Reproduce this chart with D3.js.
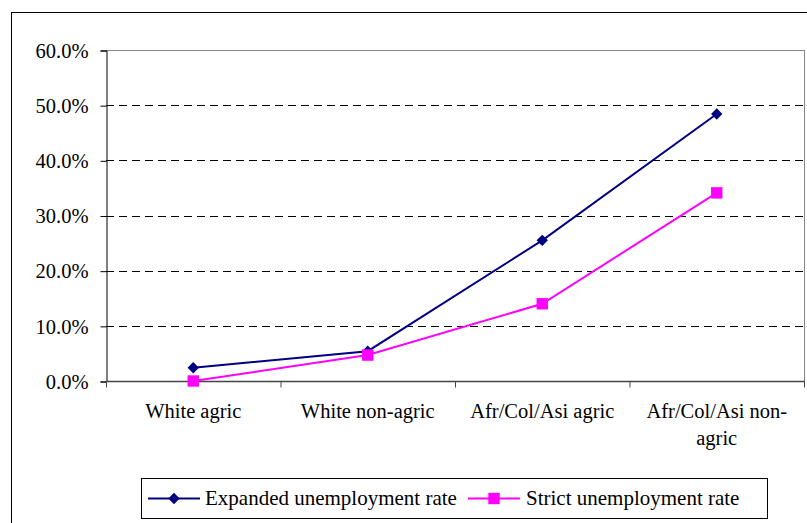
<!DOCTYPE html>
<html><head><meta charset="utf-8">
<script src="https://cdn.jsdelivr.net/npm/d3@7"></script>
<style>body{margin:0;background:#fff}svg{display:block}</style>
</head><body>
<svg id="c" width="807" height="523"></svg>
<script>
const categories = [["White agric"],["White non-agric"],["Afr/Col/Asi agric"],["Afr/Col/Asi non-","agric"]];
const expanded = [0.024, 0.054, 0.255, 0.484];
const strict = [0.000, 0.047, 0.140, 0.341];
const yTicks = [0, 0.1, 0.2, 0.3, 0.4, 0.5, 0.6];
const seriesNames = ["Expanded unemployment rate", "Strict unemployment rate"];

const FONT = "'Liberation Serif','Times New Roman',serif";
const svg = d3.select("#c");
const L = 106, R = 804, T = 50, B = 381;
svg.append("rect").attr("x",11.5).attr("y",12.5).attr("width",830).attr("height",530).attr("fill","none").attr("stroke","#000").attr("stroke-width",1);

const x = d3.scaleBand().domain(d3.range(categories.length)).range([L, R]).padding(0);
const y = d3.scaleLinear().domain([0, 0.6]).range([B, T]);

svg.append("g").selectAll("line").data(yTicks.filter(d=>d>0 && d<0.6)).join("line")
  .attr("x1",L).attr("x2",R).attr("y1",d=>Math.round(y(d))+0.5).attr("y2",d=>Math.round(y(d))+0.5)
  .attr("stroke","#000").attr("stroke-dasharray","8,5").attr("stroke-width",1);
svg.append("line").attr("x1",L).attr("x2",R).attr("y1",T+0.5).attr("y2",T+0.5).attr("stroke","#888");
svg.append("line").attr("x1",R+0.5).attr("x2",R+0.5).attr("y1",T).attr("y2",B).attr("stroke","#888");

const yAxis = d3.axisLeft(y).tickValues(yTicks).tickFormat(d3.format(".1%")).tickSize(6).tickPadding(12);
const gy = svg.append("g").attr("transform",`translate(${L+0.5},0.5)`).call(yAxis);
gy.select(".domain").attr("stroke","#000");
gy.selectAll("text").style("font-family",FONT).style("font-size","20.5px").attr("dy","0.33em");

const gx = svg.append("g").attr("transform",`translate(0,${B+0.5})`);
gx.append("line").attr("x1",L).attr("x2",R+1).attr("stroke","#444").attr("stroke-width",1.5);
const bounds = d3.range(categories.length+1).map(i => i<categories.length ? x(i) : R);
gx.selectAll("line.tk").data(bounds).join("line").attr("class","tk")
  .attr("x1",d=>d+0.5).attr("x2",d=>d+0.5).attr("y1",0).attr("y2",6).attr("stroke","#444");
gx.selectAll("text").data(categories).join("text")
  .attr("text-anchor","middle").style("font-family",FONT).style("font-size","20.5px")
  .attr("x",(d,i)=>x(i)+x.bandwidth()/2).attr("y",36)
  .each(function(d){ const t=d3.select(this); d.forEach((s,j)=>t.append("tspan").attr("x",t.attr("x")).attr("dy", j===0?0:27).text(s)); });

const cx = i => x(i)+x.bandwidth()/2;
const line = d3.line().x((d,i)=>cx(i)).y(d=>y(d));
svg.append("path").datum(expanded).attr("d",line).attr("fill","none").attr("stroke","#000080").attr("stroke-width",2);
svg.append("path").datum(strict).attr("d",line).attr("fill","none").attr("stroke","#FF00FF").attr("stroke-width",2);

const sq = d3.symbol().type(d3.symbolSquare).size(130);
const dm = d3.symbol().type(d3.symbolSquare).size(64);
svg.append("g").selectAll("path").data(expanded).join("path")
  .attr("d",dm()).attr("transform",(d,i)=>`translate(${cx(i)},${y(d)}) rotate(45)`).attr("fill","#000080");
svg.append("g").selectAll("path").data(strict).join("path")
  .attr("transform",(d,i)=>`translate(${cx(i)},${y(d)})`).attr("d",sq()).attr("fill","#FF00FF");

const lg = svg.append("g");
lg.append("rect").attr("x",141.5).attr("y",478.5).attr("width",626).attr("height",40).attr("fill","#fff").attr("stroke","#000");
const items = [{n:seriesNames[0],c:"#000080",t:"d",x0:148,tx:205},{n:seriesNames[1],c:"#FF00FF",t:"s",x0:468,tx:526}];
items.forEach(it=>{
  lg.append("line").attr("x1",it.x0).attr("x2",it.x0+52).attr("y1",498.5).attr("y2",498.5).attr("stroke",it.c).attr("stroke-width",2);
  if(it.t==="d") lg.append("path").attr("transform",`translate(${it.x0+26},498.5) rotate(45)`).attr("d",dm()).attr("fill",it.c);
  else lg.append("path").attr("transform",`translate(${it.x0+26},498.5)`).attr("d",sq()).attr("fill",it.c);
  lg.append("text").attr("x",it.tx).attr("y",505).style("font-family",FONT).style("font-size","21px").text(it.n);
});
</script>
</body></html>
